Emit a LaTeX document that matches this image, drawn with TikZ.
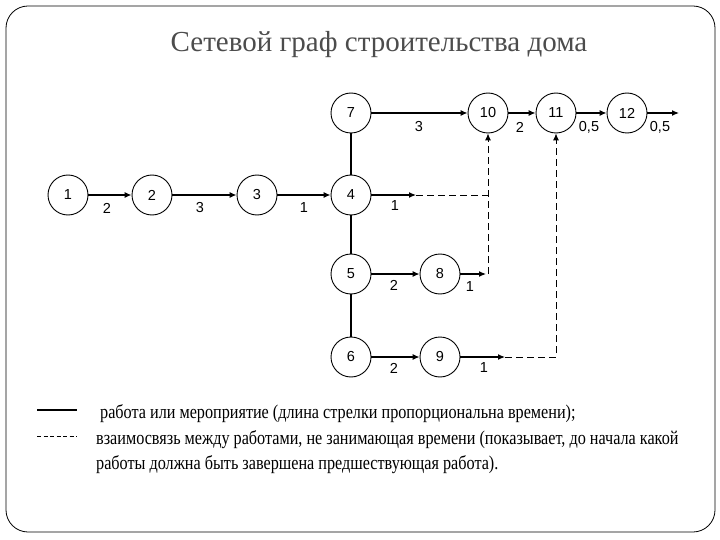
\documentclass[tikz,border=0pt]{standalone}
\usepackage{fontspec}
\setmainfont{Liberation Serif}
\newfontfamily\numfont{Liberation Sans}
\newfontfamily\legfont[FakeStretch=0.83]{Liberation Serif}
\usetikzlibrary{arrows.meta}
\begin{document}
\begin{tikzpicture}[x=1pt,y=-1pt,
  ev/.style={circle,draw,line width=0.9pt,minimum size=40pt,inner sep=0pt,font=\numfont\fontsize{14.5}{14.5}\selectfont},
  work/.style={line width=1.2pt,-{Latex[length=7pt,width=6pt]}},
  plain/.style={line width=1.2pt},
  link/.style={line width=0.9pt,dash pattern=on 7pt off 4pt},
  linkarr/.style={link,-{Latex[length=7pt,width=6pt]}},
  lbl/.style={font=\numfont\fontsize{14.5}{14.5}\selectfont,inner sep=0pt},
  leg/.style={font=\legfont\fontsize{19.5}{19.5}\selectfont,anchor=base west,inner sep=0pt}]
\useasboundingbox (0,0) rectangle (720,540);
\draw[rounded corners=22pt,line width=0.8pt] (6,6) rectangle (715,532);
\node[font=\fontsize{29}{33}\selectfont,text=black!70] (title) at (379,45) {Сетевой граф строительства дома};
% events
\node[ev] (n1) at (68,195) {1};
\node[ev] (n2) at (152,195) {2};
\node[ev] (n3) at (257,195) {3};
\node[ev] (n4) at (351,195) {4};
\node[ev] (n7) at (351,113) {7};
\node[ev] (n5) at (351,274) {5};
\node[ev] (n6) at (351,357) {6};
\node[ev] (n8) at (440,274) {8};
\node[ev] (n9) at (440,357) {9};
\node[ev] (n10) at (488,113) {10};
\node[ev] (n11) at (556,113) {11};
\node[ev] (n12) at (627,113) {12};
% helper coordinates
\coordinate (a4) at (416,195);
\coordinate (j4) at (488,195);
\coordinate (a8) at (486,274);
\coordinate (j8) at (488,274);
\coordinate (a9) at (505,357);
\coordinate (j9) at (556,357);
\coordinate (e12) at (679,113);
% works
\draw[work] (n1) -- (n2);
\draw[work] (n2) -- (n3);
\draw[work] (n3) -- (n4);
\draw[work] (n7) -- (n10);
\draw[work] (n10) -- (n11);
\draw[work] (n11) -- (n12);
\draw[work] (n12) -- (e12);
\draw[work] (n4) -- (a4);
\draw[work] (n5) -- (n8);
\draw[work] (n6) -- (n9);
\draw[work] (n8) -- (a8);
\draw[work] (n9) -- (a9);
\draw[plain] (n7) -- (n4);
\draw[plain] (n4) -- (n5);
\draw[plain] (n5) -- (n6);
% dummy links
\draw[link] (a4) -- (j4);
\draw[linkarr] (j8) -- (n10);
\draw[linkarr] (a9) -- (j9) -- (n11);
% labels
\node[lbl] (l12) at (107,208) {2};
\node[lbl] (l23) at (200,208) {3};
\node[lbl] (l34) at (304,208) {1};
\node[lbl] (l710) at (419,127) {3};
\node[lbl] (l1011) at (520,127) {2};
\node[lbl] (l1112) at (589,127) {0,5};
\node[lbl] (l12e) at (660,127) {0,5};
\node[lbl] (l4) at (395,206) {1};
\node[lbl] (l58) at (394,285) {2};
\node[lbl] (l8) at (470,287) {1};
\node[lbl] (l69) at (394,368) {2};
\node[lbl] (l9) at (484,368) {1};
% legend
\coordinate (s1) at (37,410);
\coordinate (s2) at (77,410);
\coordinate (d1) at (37,436);
\coordinate (d2) at (77,436);
\draw[line width=1.8pt] (s1) -- (s2);
\draw[line width=0.9pt,dash pattern=on 4pt off 2.5pt] (d1) -- (d2);
\node[leg] (t1) at (100,418) {работа или мероприятие (длина стрелки пропорциональна времени);};
\node[leg] (t2) at (96,444) {взаимосвязь между работами, не занимающая времени (показывает, до начала какой};
\node[leg] (t3) at (96,469) {работы должна быть завершена предшествующая работа).};
\end{tikzpicture}
\end{document}
